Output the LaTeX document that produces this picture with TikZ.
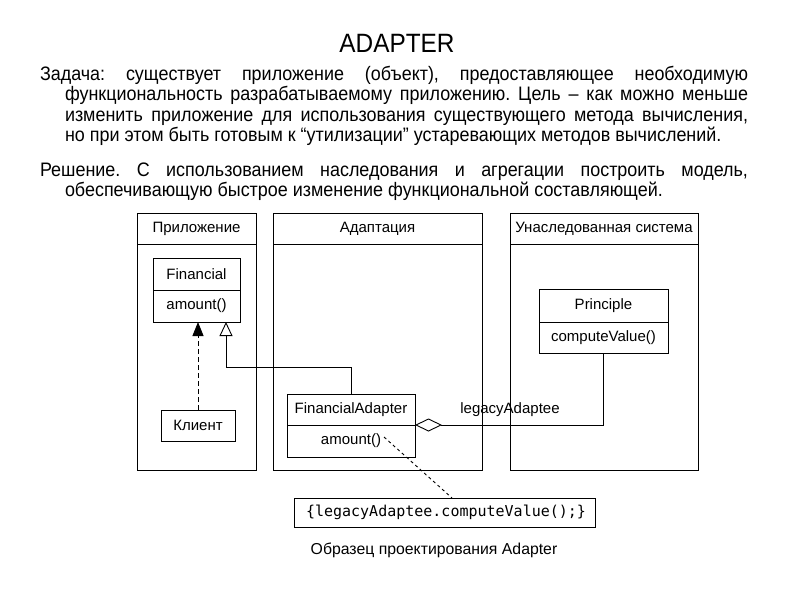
\documentclass[tikz,border=0pt]{standalone}
\usepackage{fontspec}
\setmainfont{Liberation Sans}
\newfontfamily\narrowfont{Liberation Sans}[FakeStretch=0.92]
\setmonofont{DejaVu Sans Mono}
\usetikzlibrary{arrows.meta,calc}
\frenchspacing
\newcommand{\hangpar}[1]{\parbox[t]{708pt}{\narrowfont\fontsize{19.5}{20.6}\selectfont\frenchspacing\hangindent=25pt\hangafter=1\noindent #1}}
\tikzset{
  every node/.style={inner sep=0pt, outer sep=0pt},
  ln/.style={line width=0.9pt},
  lanebox/.style={draw, ln, anchor=north west, minimum height=257pt},
  dfont/.style={font=\fontsize{15}{17}\selectfont},
  clsbox/.style={draw, ln, dfont},
  dep/.style={ln, dash pattern=on 5pt off 3pt, -{Triangle[length=14pt,width=11pt]}},
  gen/.style={ln, -{Triangle[open,length=14pt,width=13pt,fill=white]}},
  agg/.style={ln, {Diamond[open,length=27pt,width=13pt,fill=white]}-},
  notel/.style={ln, dash pattern=on 3pt off 3pt},
  para/.style={anchor=base west}
}
\begin{document}
\begin{tikzpicture}[x=1pt,y=-1pt]
\useasboundingbox[fill=white] (0,0) rectangle (794,595);

% title and text
\node[font=\narrowfont\fontsize{26.5}{30}\selectfont] (title) at (397,43) {ADAPTER};
\node[para] (task) at (40,80) {\hangpar{Задача: существует приложение (объект), предоставляющее необходимую\linebreak
функциональность разрабатываемому приложению. Цель – как можно меньше\linebreak
изменить приложение для использования существующего метода вычисления,\linebreak
но при этом быть готовым к “утилизации” устаревающих методов вычислений.}};
\node[para] (sol) at (40,176) {\hangpar{Решение. С использованием наследования и агрегации построить модель,\linebreak
обеспечивающую быстрое изменение функциональной составляющей.}};

% lanes
\node[lanebox, minimum width=119pt] (lane1) at (137,213) {};
\node[lanebox, minimum width=209pt] (lane2) at (273,213) {};
\node[lanebox, minimum width=188pt] (lane3) at (510,213) {};
\foreach \l in {lane1,lane2,lane3}{
  \draw[ln] ([yshift=-31pt]\l.north west) -- ([yshift=-31pt]\l.north east);
}
\node[dfont] (h1) at ($(lane1.north)+(0,16)$) {Приложение};
\node[dfont] (h2) at ($(lane2.north)+(0,16)$) {Адаптация};
\node[dfont] (h3) at ($(lane3.north)+(0,16)$) {Унаследованная система};

% classes
\node[clsbox, minimum width=87pt, minimum height=32pt] (fn) at (196.5,274) {Financial};
\node[clsbox, minimum width=87pt, minimum height=32pt, anchor=north] (fm) at (fn.south) {amount()};
\node[clsbox, minimum width=74pt, minimum height=31pt] (cl) at (198,425.5) {Клиент};
\node[clsbox, minimum width=128pt, minimum height=31pt] (fan) at (351,409.5) {FinancialAdapter};
\node[clsbox, minimum width=128pt, minimum height=32pt, anchor=north] (fam) at (fan.south) {amount()};
\node[clsbox, minimum width=129pt, minimum height=33pt] (pn) at (603.5,305.5) {Principle};
\node[clsbox, minimum width=129pt, minimum height=31pt, anchor=north] (pm) at (pn.south) {computeValue()};

% code note
\node[draw, ln, minimum width=301pt, minimum height=29pt, font=\ttfamily\fontsize{15}{17}\selectfont] (code) at (444.5,512.5) {\hspace{3pt}\{legacyAdaptee.computeValue();\}};
\node[font=\fontsize{15.8}{18}\selectfont] (cap) at (434,550) {Образец проектирования Adapter};

% connectors
\draw[dep] (cl.north) -- (cl.north |- fm.south);
\draw[gen] (fan.north) -- ++(0,-27) -| ([xshift=29.5pt]fm.south);
\draw[agg] (fan.south east) -| (pm.south);
\node[dfont] (lbl) at (510,410) {legacyAdaptee};
\coordinate (nt) at (384,437);
\draw[notel] (nt) -- ([xshift=7.5pt]code.north);
\end{tikzpicture}
\end{document}
